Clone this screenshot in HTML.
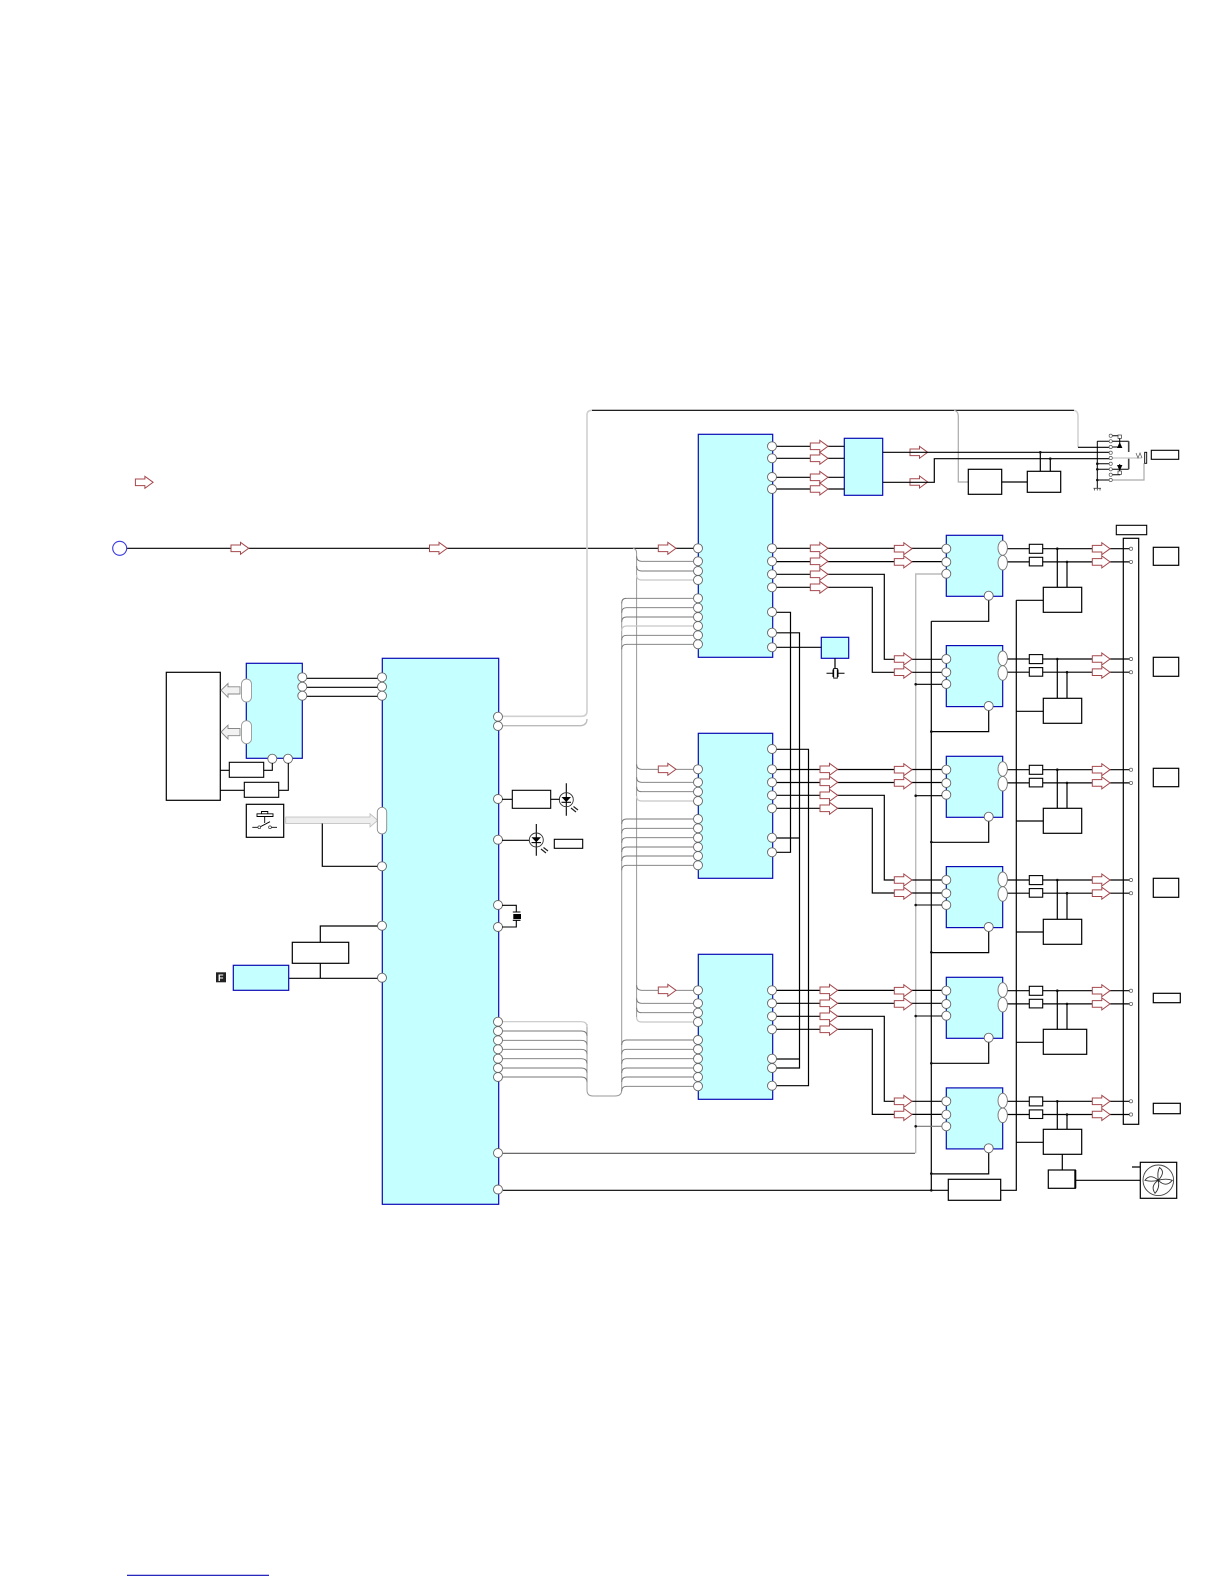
<!DOCTYPE html>
<html lang="en"><head><meta charset="utf-8"><title>Block diagram</title>
<style>html,body{margin:0;padding:0;background:#fff}svg{display:block}</style></head><body>
<svg xmlns="http://www.w3.org/2000/svg" width="1224" height="1584" viewBox="0 0 1224 1584">
<defs>
<polygon id="ra" points="0,-3.3 9.5,-3.3 9.5,-6 17.7,0 9.5,6 9.5,3.3 0,3.3" fill="#fff" stroke="#a5484d" stroke-width="1"/>
<circle id="c" r="4.5" fill="#fff" stroke="#666" stroke-width="0.9"/>
<circle id="s" r="1.6" fill="#fff" stroke="#555" stroke-width="0.7"/>
<circle id="d" r="1.3" fill="#111"/>
<g id="row">
<rect x="946.3" y="535.3" width="56.4" height="61" fill="#c6ffff" stroke="#0a0ab4" stroke-width="1.2"/>
<path d="M1007 548.7H1131M1007 561.9H1131" fill="none" stroke="#000" stroke-width="1.2"/>
<rect x="1029.3" y="544.3" width="13.4" height="9" fill="#fff" stroke="#000" stroke-width="1.1"/>
<rect x="1029.3" y="557.3" width="13.4" height="8.6" fill="#fff" stroke="#000" stroke-width="1.1"/>
<path d="M988.7 600V621.3H931.3" fill="none" stroke="#000" stroke-width="1.2"/>
<use href="#c" x="946.3" y="548.7"/><use href="#c" x="946.3" y="562"/><use href="#c" x="946.3" y="573.7"/>
<use href="#c" x="988.7" y="595.7"/>
<ellipse cx="1002.7" cy="548" rx="4.7" ry="7.3" fill="#fff" stroke="#777" stroke-width="0.9"/>
<ellipse cx="1002.7" cy="562.7" rx="4.7" ry="7.3" fill="#fff" stroke="#777" stroke-width="0.9"/>
<use href="#s" x="1131" y="548.7"/><use href="#s" x="1131" y="561.9"/>
<use href="#ra" x="894.3" y="548.7"/><use href="#ra" x="894.3" y="561.9"/>
<use href="#ra" x="1092.3" y="548.7"/><use href="#ra" x="1092.3" y="561.9"/>
<use href="#d" x="1057.3" y="548.7"/><use href="#d" x="1067" y="561.9"/>
</g>
</defs>
<rect width="1224" height="1584" fill="#fff"/>

<!-- legend + main input -->
<use href="#ra" x="135.4" y="482.3"/>
<line x1="127" y1="548.3" x2="694" y2="548.3" stroke="#000" stroke-width="1.2"/>
<circle cx="119.7" cy="548.3" r="7" fill="#fff" stroke="#3a3ae0" stroke-width="1.1"/>
<use href="#ra" x="231" y="548.3"/><use href="#ra" x="429.5" y="548.3"/>
<line x1="127" y1="1575.3" x2="269" y2="1575.3" stroke="#0a0ab4" stroke-width="1.2"/>

<!-- gray bus trunks -->
<g fill="none" stroke="#999" stroke-width="1">
<path d="M633 548.3Q636.6 549 636.6 553V1017"/>
<path d="M621.7 1090V603Q621.7 598.3 626 598.3"/>
<path d="M587 1024V1090Q587 1096 593 1096H615Q621.7 1096 621.7 1090"/>
</g>
<g fill="none" stroke="#777" stroke-width="0.9">
<path d="M636.6 556.3q0 5 5 5H693M636.6 566q0 5 5 5H693"/>
<path d="M636.6 764.3q0 5 5 5H693M636.6 777.3q0 5 5 5H693M636.6 786.7q0 5 5 5H693"/>
<path d="M636.6 985.3q0 5 5 5H693M636.6 998.3q0 5 5 5H693M636.6 1007.7q0 5 5 5H693"/>
<path d="M621.7 603.3q0 -5 5 -5H693M621.7 612.7q0 -5 5 -5H693M621.7 622q0 -5 5 -5H693M621.7 640.3q0 -5 5 -5H693M621.7 649.3q0 -5 5 -5H693"/>
<path d="M621.7 824q0 -5 5 -5H693M621.7 833.3q0 -5 5 -5H693M621.7 842.7q0 -5 5 -5H693M621.7 852q0 -5 5 -5H693M621.7 861q0 -5 5 -5H693M621.7 870.3q0 -5 5 -5H693"/>
<path d="M621.7 1045q0 -5 5 -5H693M621.7 1054.3q0 -5 5 -5H693M621.7 1063.7q0 -5 5 -5H693M621.7 1073q0 -5 5 -5H693M621.7 1082q0 -5 5 -5H693M621.7 1091.3q0 -5 5 -5H693"/>
<path d="M503 1031H581q6 0 6 5M503 1040.3H581q6 0 6 5M503 1049.3H581q6 0 6 5M503 1058.7H581q6 0 6 5M503 1068H581q6 0 6 5M503 1077H581q6 0 6 5"/>
</g>
<g fill="none" stroke="#c8c8c8" stroke-width="1.2">
<path d="M636.6 575q0 5 5 5H693M636.6 796q0 5 5 5H693M636.6 1017q0 5 5 5H693"/>
<path d="M621.7 631q0 -5 5 -5H693"/>
<path d="M503 1021.7H581q6 0 6 5"/>
</g>
<!-- top route -->
<path d="M503 716.3H582Q587 716 587 711V415Q587 410.3 592 410.3" fill="none" stroke="#d0d0d0" stroke-width="1.6"/>
<path d="M503 725.7H581Q587 725 587 719" fill="none" stroke="#bbb" stroke-width="1.3"/>
<path d="M592 410.3H1074" fill="none" stroke="#000" stroke-width="1.2"/>
<path d="M1074 410.3Q1078 411 1078 416V447.3" fill="none" stroke="#d4d4d4" stroke-width="1.6"/>
<path d="M1078 447.3H1110" fill="none" stroke="#000" stroke-width="1.2"/>
<path d="M954 410.3Q958.3 411 958.3 416V482H968" fill="none" stroke="#aaa" stroke-width="1.2"/>

<!-- long bottom lines -->
<path d="M915.7 1153.3V574H942" fill="none" stroke="#bbb" stroke-width="1.4"/>
<line x1="503" y1="1153.3" x2="915" y2="1153.3" stroke="#555" stroke-width="1.1"/>
<path d="M503 1190.3H948.3" fill="none" stroke="#000" stroke-width="1.2"/>
<path d="M931.3 621.3V1190.3" fill="none" stroke="#000" stroke-width="1.2"/>
<path d="M1016.3 600.3V1190.3H1000" fill="none" stroke="#000" stroke-width="1.2"/>

<!-- box A, left part -->
<rect x="166.3" y="672.3" width="54" height="128" fill="#fff" stroke="#000" stroke-width="1.2"/>
<rect x="246.3" y="663.3" width="56" height="95" fill="#c6ffff" stroke="#0a0ab4" stroke-width="1.2"/>
<path d="M302 678.3H382M302 687.3H382M302 696.3H382" stroke="#000" stroke-width="1.2" fill="none"/>
<g fill="#f2f2f2" stroke="#888" stroke-width="0.9">
<polygon points="221,690.3 228,683.5 228,686.8 240,686.8 240,694 228,694 228,697.3"/>
<polygon points="221,732 228,725.2 228,728.5 240,728.5 240,735.7 228,735.7 228,739"/>
</g>
<rect x="241.5" y="679" width="10" height="23" rx="5" fill="#fff" stroke="#999" stroke-width="0.9"/>
<rect x="241.5" y="720.7" width="10" height="23" rx="5" fill="#fff" stroke="#999" stroke-width="0.9"/>
<use href="#c" x="302.3" y="677.3"/><use href="#c" x="302.3" y="686.7"/><use href="#c" x="302.3" y="695.7"/>
<use href="#c" x="272.3" y="758.7"/><use href="#c" x="288" y="758.7"/>
<rect x="229.3" y="762.3" width="34.4" height="15" fill="#fff" stroke="#000" stroke-width="1.1"/>
<rect x="244.3" y="782.3" width="34.4" height="15" fill="#fff" stroke="#000" stroke-width="1.1"/>
<path d="M220.3 770.3H229.3M263.7 770.3H272.3V763M220.3 790.3H244.3M278.7 790.3H288.3V763" fill="none" stroke="#000" stroke-width="1.1"/>

<!-- switch -->
<rect x="246.3" y="804.3" width="37.4" height="33" fill="#fff" stroke="#000" stroke-width="1.2"/>
<path d="M257 813.8H273V816.5H257ZM264.7 816.5V823M261.5 813.8V811.5H267.8V813.8M252.3 827.3H259.3L270 821.7M270 827.3H277" fill="none" stroke="#000" stroke-width="0.9"/>
<circle cx="259.3" cy="827.3" r="1.4" fill="#fff" stroke="#333" stroke-width="0.7"/><circle cx="270" cy="827.3" r="1.4" fill="#fff" stroke="#333" stroke-width="0.7"/>
<polygon points="285.7,817 370,817 370,813.7 377.7,820.3 370,827 370,823.5 285.7,823.5" fill="#eee" stroke="#bbb" stroke-width="0.8"/>
<path d="M322.3 823.5V866.3H378" fill="none" stroke="#000" stroke-width="1.2"/>
<path d="M378 926H320.3V942.3M320.3 963.3V978.3M288.7 978.3H378" fill="none" stroke="#000" stroke-width="1.2"/>
<rect x="292.3" y="942.3" width="56.4" height="21" fill="#fff" stroke="#000" stroke-width="1.2"/>
<rect x="233.3" y="965.3" width="55.4" height="25" fill="#c6ffff" stroke="#0a0ab4" stroke-width="1.2"/>
<rect x="216" y="972.3" width="10" height="10" fill="#222"/>
<text x="218" y="981" font-family="Liberation Sans, sans-serif" font-size="9" font-weight="bold" fill="#fff">F</text>

<!-- main big box -->
<rect x="382.3" y="658.3" width="116.4" height="546" fill="#c6ffff" stroke="#0a0ab4" stroke-width="1.2"/>
<use href="#c" x="382" y="677.3"/><use href="#c" x="382" y="686.7"/><use href="#c" x="382" y="695.7"/>
<rect x="377.3" y="807.3" width="9.4" height="26.7" rx="4.7" fill="#fff" stroke="#888" stroke-width="0.9"/>
<use href="#c" x="382" y="866.3"/><use href="#c" x="382" y="925.7"/><use href="#c" x="382" y="977.7"/>
<use href="#c" x="498" y="716.7"/><use href="#c" x="498" y="726"/><use href="#c" x="498" y="799"/><use href="#c" x="498" y="839.7"/><use href="#c" x="498" y="905"/><use href="#c" x="498" y="927"/>
<use href="#c" x="498" y="1021.7"/><use href="#c" x="498" y="1031"/><use href="#c" x="498" y="1040.3"/><use href="#c" x="498" y="1049.3"/><use href="#c" x="498" y="1058.7"/><use href="#c" x="498" y="1068"/><use href="#c" x="498" y="1077"/>
<use href="#c" x="498" y="1153"/><use href="#c" x="498" y="1189.5"/>

<!-- LEDs and crystal -->
<path d="M502 799.3H512.3M550.7 799.3H560M566.3 783.3V815.7M502 840.3H529.3M536.3 824V855.7" fill="none" stroke="#000" stroke-width="1.1"/>
<rect x="512.3" y="790.3" width="38.4" height="18" fill="#fff" stroke="#000" stroke-width="1.1"/>
<circle cx="566.3" cy="799.7" r="7" fill="none" stroke="#333" stroke-width="0.9"/>
<polygon points="561.5,797 571,797 566.3,802" fill="#000"/><path d="M561.5 802.3H571" stroke="#000" stroke-width="1.1"/>
<path d="M571 808L576 812M573.5 806.5L578 810" stroke="#222" stroke-width="1.2"/>
<circle cx="536.3" cy="840" r="7" fill="none" stroke="#333" stroke-width="0.9"/>
<polygon points="531.5,837.3 541,837.3 536.3,842.3" fill="#000"/><path d="M531.5 842.6H541" stroke="#000" stroke-width="1.1"/>
<path d="M541 849L546 853M543.5 847.5L548 851" stroke="#222" stroke-width="1.2"/>
<rect x="554.3" y="839.3" width="28.4" height="9" fill="#fff" stroke="#000" stroke-width="1.1"/>
<path d="M502 905.3H516.3V912M512.8 912H520.5M512.8 920.3H520.5M516.3 920.3V927H502" fill="none" stroke="#000" stroke-width="1.1"/>
<rect x="513.3" y="914" width="7.7" height="5" fill="#000"/>

<!-- IC boxes -->
<rect x="698.3" y="434.3" width="74.4" height="223" fill="#c6ffff" stroke="#0a0ab4" stroke-width="1.2"/>
<rect x="698.3" y="733.3" width="74.4" height="145" fill="#c6ffff" stroke="#0a0ab4" stroke-width="1.2"/>
<rect x="698.3" y="954.3" width="74.4" height="145" fill="#c6ffff" stroke="#0a0ab4" stroke-width="1.2"/>
<rect x="844.3" y="438.3" width="38.4" height="57" fill="#c6ffff" stroke="#0a0ab4" stroke-width="1.2"/>
<rect x="821.3" y="637.3" width="27.4" height="21" fill="#c6ffff" stroke="#0a0ab4" stroke-width="1.2"/>

<!-- box outputs -->
<g fill="none" stroke="#000" stroke-width="1.2">
<path d="M776 446.3H844.3M776 458.3H844.3M776 477.3H844.3M776 489H844.3"/>
<path d="M776 548.3H942M776 561.6H942"/>
<path d="M776 574.3H884.3V659.3H942M776 587.3H872.3V672.3H942"/>
<path d="M776 612.3H790.5V852.3H776M776 632.8H799.5V1068H776M776 647.3H821.3"/>
<path d="M776 749.3H808.5V1085.7H776M776 838H799.5M776 1059H799.5"/>
<path d="M776 769.5H942M776 782.5H942"/>
<path d="M776 795.3H884.3V880H942M776 808.3H872.3V893H942"/>
<path d="M776 990.4H942M776 1003.3H942"/>
<path d="M776 1016.3H884.3V1101.3H942M776 1029.3H872.3V1114.4H942"/>
<path d="M835 658.3V668"/>
</g>
<!-- crystal -->
<path d="M826.5 673.3H833M838 673.3H844.5M833 669.5V677M838 669.5V677" stroke="#000" stroke-width="1" fill="none"/>
<rect x="833.7" y="668.5" width="3.6" height="9.6" fill="#fff" stroke="#000" stroke-width="0.9"/>

<g>
<use href="#c" x="698" y="548.3"/><use href="#c" x="698" y="561.3"/><use href="#c" x="698" y="571"/><use href="#c" x="698" y="580"/><use href="#c" x="698" y="598.3"/><use href="#c" x="698" y="607.7"/><use href="#c" x="698" y="617"/><use href="#c" x="698" y="626"/><use href="#c" x="698" y="635.3"/><use href="#c" x="698" y="644.3"/>
<use href="#c" x="772" y="446.3"/><use href="#c" x="772" y="458.3"/><use href="#c" x="772" y="477"/><use href="#c" x="772" y="489"/><use href="#c" x="772" y="548.3"/><use href="#c" x="772" y="561.3"/><use href="#c" x="772" y="574.3"/><use href="#c" x="772" y="587.3"/><use href="#c" x="772" y="612"/><use href="#c" x="772" y="632.7"/><use href="#c" x="772" y="647.3"/>
<use href="#c" x="698" y="769.3"/><use href="#c" x="698" y="782.3"/><use href="#c" x="698" y="791.7"/><use href="#c" x="698" y="801"/><use href="#c" x="698" y="819"/><use href="#c" x="698" y="828.3"/><use href="#c" x="698" y="837.7"/><use href="#c" x="698" y="847"/><use href="#c" x="698" y="856"/><use href="#c" x="698" y="865.3"/>
<use href="#c" x="772" y="749"/><use href="#c" x="772" y="769.3"/><use href="#c" x="772" y="782.3"/><use href="#c" x="772" y="795.3"/><use href="#c" x="772" y="808.3"/><use href="#c" x="772" y="837.7"/><use href="#c" x="772" y="852.3"/>
<use href="#c" x="698" y="990.3"/><use href="#c" x="698" y="1003.3"/><use href="#c" x="698" y="1012.7"/><use href="#c" x="698" y="1022"/><use href="#c" x="698" y="1040"/><use href="#c" x="698" y="1049.3"/><use href="#c" x="698" y="1058.7"/><use href="#c" x="698" y="1068"/><use href="#c" x="698" y="1077"/><use href="#c" x="698" y="1086.3"/>
<use href="#c" x="772" y="990.3"/><use href="#c" x="772" y="1003.3"/><use href="#c" x="772" y="1016.3"/><use href="#c" x="772" y="1029.3"/><use href="#c" x="772" y="1058.7"/><use href="#c" x="772" y="1068"/><use href="#c" x="772" y="1085.7"/>
</g>

<!-- red arrows -->
<use href="#ra" x="658.3" y="548.3"/><use href="#ra" x="658.3" y="769.3"/><use href="#ra" x="658.3" y="990.3"/>
<use href="#ra" x="810.3" y="446.3"/><use href="#ra" x="810.3" y="458.3"/><use href="#ra" x="810.3" y="477.3"/><use href="#ra" x="810.3" y="489"/>
<use href="#ra" x="810.3" y="548.3"/><use href="#ra" x="810.3" y="561.3"/><use href="#ra" x="810.3" y="574.3"/><use href="#ra" x="810.3" y="587.3"/>
<use href="#ra" x="820" y="769.3"/><use href="#ra" x="820" y="782.3"/><use href="#ra" x="820" y="795.3"/><use href="#ra" x="820" y="808.3"/>
<use href="#ra" x="820" y="990.3"/><use href="#ra" x="820" y="1003.3"/><use href="#ra" x="820" y="1016.3"/><use href="#ra" x="820" y="1029.3"/>
<use href="#ra" x="910" y="452.3"/><use href="#ra" x="910" y="482"/>

<!-- top right -->
<path d="M882.7 452.3H1110M882.7 482.3H934.3V458.7H1110" fill="none" stroke="#000" stroke-width="1.2"/>
<path d="M1001.7 482H1027.3M1040.3 452.3V471.3M1050.3 458.7V471.3" fill="none" stroke="#000" stroke-width="1.2"/>
<rect x="968.3" y="469.3" width="33.4" height="25" fill="#fff" stroke="#000" stroke-width="1.2"/>
<rect x="1027.3" y="471.3" width="33.4" height="21" fill="#fff" stroke="#000" stroke-width="1.2"/>
<use href="#d" x="1040.3" y="452.3"/><use href="#d" x="1050.3" y="458.7"/>
<!-- connector -->
<path d="M1097.3 441.3V488.3M1097.3 441.3H1128.7M1097.3 469.3H1128.7M1097.3 463.7H1110M1097.3 480H1110M1110.7 435.7H1119.7V441M1110.7 447H1119.7V441M1110.7 474.7H1119.7V464" fill="none" stroke="#000" stroke-width="1"/>
<path d="M1128.7 441.3V452M1128.7 458V469.3" stroke="#444" stroke-width="1.6" fill="none"/>
<polygon points="1117,448 1122.4,448 1119.7,442" fill="#000"/><polygon points="1117,465 1122.4,465 1119.7,471" fill="#000"/>
<rect x="1118" y="435" width="3.4" height="3.4" fill="#fff" stroke="#333" stroke-width="0.7"/><rect x="1118" y="471" width="3.4" height="3.4" fill="#fff" stroke="#333" stroke-width="0.7"/>
<path d="M1110.7 458H1141.7" stroke="#d0d0d0" stroke-width="1.6"/>
<path d="M1110.7 480H1144V463.3" fill="none" stroke="#aaa" stroke-width="1.2"/>
<path d="M1136 453L1138 458L1140 453L1142 458" fill="none" stroke="#555" stroke-width="0.7"/>
<rect x="1144.7" y="452.3" width="2" height="11" fill="#fff" stroke="#000" stroke-width="0.9"/>
<path d="M1093.5 488.3H1101M1094.5 488.3V490.5M1097.3 488.3V490.5M1100 488.3V490.5" stroke="#444" stroke-width="0.8" fill="none"/>
<use href="#s" x="1110.7" y="435.7"/><use href="#s" x="1110.7" y="441.3"/><use href="#s" x="1110.7" y="447"/><use href="#s" x="1110.7" y="452.7"/><use href="#s" x="1110.7" y="458"/><use href="#s" x="1110.7" y="463.7"/><use href="#s" x="1110.7" y="469.3"/><use href="#s" x="1110.7" y="474.7"/><use href="#s" x="1110.7" y="480"/>
<use href="#d" x="1097.3" y="463.7"/><use href="#d" x="1097.3" y="469.3"/><use href="#d" x="1097.3" y="480"/>
<rect x="1151.3" y="450.3" width="27.4" height="9" fill="#fff" stroke="#000" stroke-width="1.1"/>

<!-- output bar -->
<rect x="1123.3" y="538.3" width="15.4" height="586" fill="#fff" stroke="#000" stroke-width="1.2"/>
<rect x="1116.3" y="525.3" width="30.4" height="9.4" fill="#fff" stroke="#000" stroke-width="1.1"/>

<!-- rows -->
<use href="#row"/>
<use href="#row" y="110.3"/>
<use href="#row" y="221"/>
<use href="#row" y="331.3"/>
<use href="#row" y="442"/>
<use href="#row" y="552.6"/>

<!-- row third inputs -->
<g fill="none" stroke="#000" stroke-width="1.1">
<path d="M915.7 684.3H942M915.7 795.7H942M915.7 905H942M915.7 1016H942"/>
</g>
<path d="M915.7 1126.3H942" stroke="#777" stroke-width="1.1"/>
<use href="#d" x="915.7" y="684.3"/><use href="#d" x="915.7" y="795.7"/><use href="#d" x="915.7" y="905"/><use href="#d" x="915.7" y="1016"/><use href="#d" x="915.7" y="1126.3"/>
<use href="#d" x="931.3" y="731.6"/><use href="#d" x="931.3" y="842"/><use href="#d" x="931.3" y="952.3"/><use href="#d" x="931.3" y="1063.3"/><use href="#d" x="931.3" y="1173.6"/><use href="#d" x="931.3" y="1190.3"/>

<!-- row control rects -->
<g fill="none" stroke="#000" stroke-width="1.2">
<path d="M1057.3 548.7V587.3M1067 561.9V587.3M1043.3 600.3H1016.3"/>
<path d="M1057.3 659V698.3M1067 672.2V698.3M1043.3 711.3H1016.3"/>
<path d="M1057.3 769.7V808.3M1067 782.9V808.3M1043.3 821H1016.3"/>
<path d="M1057.3 880V919.3M1067 893.2V919.3M1043.3 932H1016.3"/>
<path d="M1057.3 990.7V1029.3M1067 1003.9V1029.3M1043.3 1042.3H1016.3"/>
<path d="M1057.3 1101.3V1129.3M1067 1114.5V1129.3M1043.3 1142.3H1016.3"/>
</g>
<g fill="#fff" stroke="#000" stroke-width="1.2">
<rect x="1043.3" y="587.3" width="38.4" height="25"/>
<rect x="1043.3" y="698.3" width="38.4" height="25"/>
<rect x="1043.3" y="808.3" width="38.4" height="25"/>
<rect x="1043.3" y="919.3" width="38.4" height="25"/>
<rect x="1043.3" y="1029.3" width="43.4" height="25"/>
<rect x="1043.3" y="1129.3" width="38.4" height="25"/>
<rect x="1153.3" y="547.3" width="25.4" height="18"/>
<rect x="1153.3" y="657.3" width="25.4" height="19"/>
<rect x="1153.3" y="768.3" width="25.4" height="18.4"/>
<rect x="1153.3" y="878.3" width="25.4" height="19"/>
<rect x="1153.3" y="993.3" width="27" height="9.4"/>
<rect x="1153.3" y="1103.3" width="27" height="10.4"/>
<rect x="948.3" y="1179.3" width="52.4" height="21"/>
</g>

<!-- fan -->
<path d="M1062.3 1154.3V1170M1075.3 1180.3H1140.3M1132 1167H1140.3" fill="none" stroke="#000" stroke-width="1.2"/>
<rect x="1048.3" y="1170" width="27" height="18.3" fill="#fff" stroke="#000" stroke-width="1.2"/>
<line x1="1075.3" y1="1170" x2="1075.3" y2="1188.3" stroke="#000" stroke-width="2"/>
<rect x="1140.3" y="1162.3" width="36.4" height="36" fill="#fff" stroke="#000" stroke-width="1.2"/>
<circle cx="1158.3" cy="1180.3" r="15.3" fill="none" stroke="#444" stroke-width="0.9"/>
<path d="M1158.3 1180.3Q1157 1172 1159.5 1167.5Q1166 1172 1158.3 1180.3Q1166 1178 1172.3 1180.3Q1166 1188 1158.3 1180.3Q1160 1188 1155 1193.3Q1150 1186 1158.3 1180.3Q1151 1182 1145 1180.3Q1150 1173 1158.3 1180.3Z" fill="none" stroke="#333" stroke-width="0.9"/>
<circle cx="1158.3" cy="1180.3" r="1.2" fill="#222"/>
</svg>
</body></html>
